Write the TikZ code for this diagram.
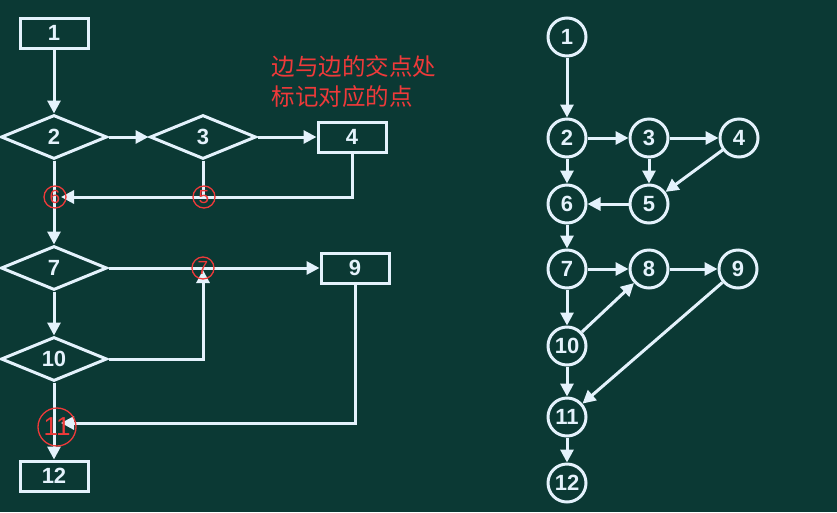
\documentclass[tikz,border=0pt]{standalone}
\usepackage{fontspec}
\setmainfont{Liberation Sans}
\newfontfamily\cjk{Noto Sans CJK SC}
\usetikzlibrary{arrows.meta,shapes.geometric}
\definecolor{bg}{RGB}{11,57,52}
\definecolor{wl}{RGB}{228,242,252}
\definecolor{rd}{RGB}{238,58,58}
\begin{document}
\begin{tikzpicture}[x=1pt,y=-1pt,
  every node/.style={text=wl, font=\bfseries\fontsize{22}{22}\selectfont},
  wline/.style={draw=wl, line width=3pt},
  arr/.style={wline, -{Triangle[length=13pt,width=13pt]}},
  box/.style={wline, rectangle, minimum width=68pt, minimum height=30pt, inner sep=0pt},
  dia/.style={wline, diamond, minimum width=106pt, minimum height=44pt, inner sep=0pt},
  vtx/.style={wline, circle, minimum size=38pt, inner sep=0pt},
  redc/.style={draw=rd, line width=1.3pt, circle, minimum size=22pt, inner sep=0pt, text=rd, font=\fontsize{19}{19}\selectfont},
]
\fill[bg] (0,0) rectangle (837,512);
\useasboundingbox (0,0) rectangle (837,512);

% ---------- left flowchart ----------
\node[box] (b1) at (54,33) {1};
\node[dia] (d2) at (54,137) {2};
\node[dia] (d3) at (203,137) {3};
\node[box] (b4) at (352,137) {4};
\node[dia] (d7) at (54,268) {7};
\node[box] (b9) at (355,268) {9};
\node[dia] (d10) at (54,359) {10};
\node[box] (b12) at (54,476) {12};

\coordinate (j6) at (61,197);
\coordinate (j5) at (203,197);
\coordinate (j7) at (203,270);
\coordinate (j11) at (61,423);

\draw[arr] (b1.south) -- (d2.north);
\draw[arr] (d2.east) -- (d3.west);
\draw[arr] (d3.east) -- (b4.west);
\draw[arr] (b4.south) |- (j6);
\draw[wline] (d3.south) -- (j5);
\draw[arr] (d2.south) -- (d7.north);
\draw[arr] (d7.east) -- (b9.west);
\draw[arr] (d10.east) -| (j7);
\draw[arr] (d7.south) -- (d10.north);
\draw[arr] (b9.south) |- (j11);
\draw[arr] (d10.south) -- (b12.north);

\node[redc] (r6) at (55,197) {6};
\node[redc] (r5) at (204,197) {5};
\node[redc] (r7) at (203,268) {7};
\node[redc, minimum size=38pt, font=\fontsize{26}{26}\selectfont] (r11) at (57,427) {11};

\node[text=rd, font=\cjk\fontsize{23.5}{30}\selectfont, align=left, anchor=west] (note) at (268,82) {边与边的交点处\\标记对应的点};

% ---------- right graph ----------
\node[vtx] (v1) at (567,37) {1};
\node[vtx] (v2) at (567,138) {2};
\node[vtx] (v3) at (649,138) {3};
\node[vtx] (v4) at (739,138) {4};
\node[vtx] (v6) at (567,204) {6};
\node[vtx] (v5) at (649,204) {5};
\node[vtx] (v7) at (567,269) {7};
\node[vtx] (v8) at (649,269) {8};
\node[vtx] (v9) at (738,269) {9};
\node[vtx] (v10) at (567,346) {10};
\node[vtx] (v11) at (567,417) {11};
\node[vtx] (v12) at (567,483) {12};

\draw[arr] (v1) -- (v2);
\draw[arr] (v2) -- (v3);
\draw[arr] (v3) -- (v4);
\draw[arr] (v2) -- (v6);
\draw[arr] (v3) -- (v5);
\draw[arr] (v4) -- (v5);
\draw[arr] (v5) -- (v6);
\draw[arr] (v6) -- (v7);
\draw[arr] (v7) -- (v8);
\draw[arr] (v8) -- (v9);
\draw[arr] (v7) -- (v10);
\draw[arr] (v10) -- (v8);
\draw[arr] (v10) -- (v11);
\draw[arr] (v9) -- (v11);
\draw[arr] (v11) -- (v12);
\end{tikzpicture}
\end{document}
